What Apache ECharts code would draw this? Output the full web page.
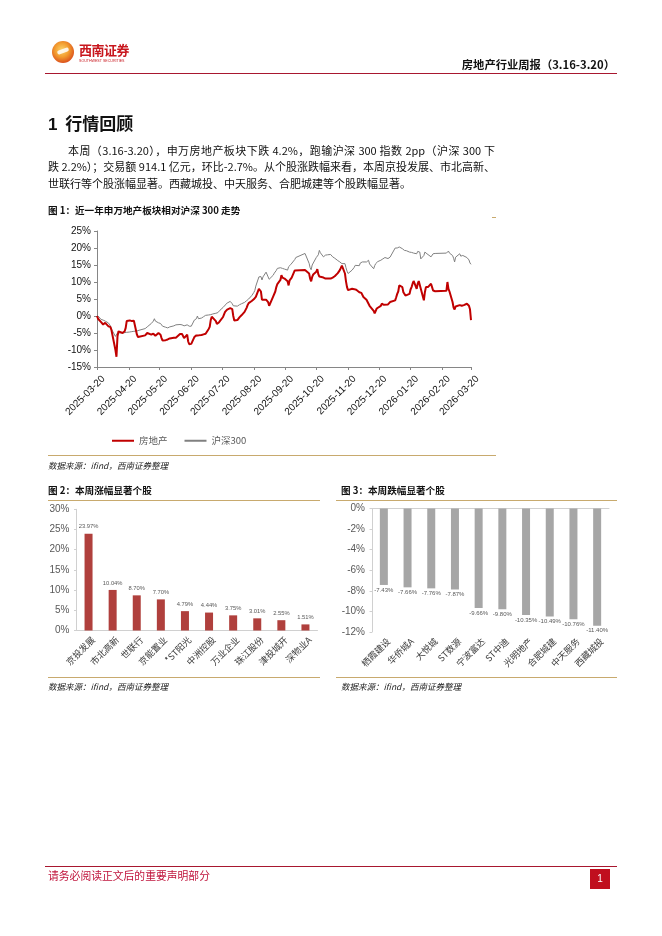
<!DOCTYPE html>
<html><head><meta charset="utf-8">
<script src="https://cdn.jsdelivr.net/npm/echarts@6/dist/echarts.min.js"></script>
<style>
html,body{margin:0;padding:0;background:#fff;}
#page{position:relative;width:662px;height:936px;overflow:hidden;font-family:"Noto Sans CJK SC","Liberation Sans",sans-serif;color:#000;}
#chart{position:absolute;left:0;top:0;width:662px;height:936px;z-index:1;}
.abs{position:absolute;white-space:nowrap;z-index:2;}
.hl{position:absolute;z-index:2;}
.para{position:absolute;font-size:11px;line-height:14px;height:14px;z-index:2;white-space:nowrap;color:#111;}
.just{text-align:justify;text-align-last:justify;white-space:normal;overflow:hidden;}
.ftitle{font-size:9.6px;font-weight:700;line-height:12px;color:#111;}
.src{font-size:8.5px;font-style:italic;line-height:11px;color:#222;}
</style></head>
<body><div id="page">
<div id="chart"></div>

<!-- header -->
<div class="hl" style="left:52px;top:41px;width:22px;height:22px;border-radius:50%;background:radial-gradient(circle at 45% 40%,#fbd36b 0%,#f29b2e 40%,#de5a1e 70%,#c8161d 100%);"></div>
<div class="hl" style="left:57px;top:49px;width:12px;height:4px;border-radius:3px;background:#fff;transform:rotate(-20deg);opacity:0.85;"></div>
<div class="abs" style="left:79px;top:42px;font-size:13px;font-weight:700;color:#c8161d;line-height:15px;letter-spacing:-0.5px;">西南证券</div>
<div class="abs" style="left:79px;top:59px;font-size:3.6px;color:#c8161d;line-height:4px;font-family:'Liberation Sans';">SOUTHWEST SECURITIES</div>
<div class="abs" style="right:47px;top:57px;font-size:11.3px;font-weight:700;line-height:14px;color:#111;">房地产行业周报（3.16-3.20）</div>
<div class="hl" style="left:45px;top:73px;width:572px;height:1.3px;background:#a8172f;"></div>

<!-- section -->
<div class="abs" style="left:48px;top:113px;font-size:17px;font-weight:700;line-height:20px;color:#111;"><span style="font-family:'Liberation Sans';">1</span>&nbsp;&nbsp;行情回顾</div>
<div class="para just" style="left:68px;top:143px;width:427px;">本周（3.16-3.20），申万房地产板块下跌 4.2%，跑输沪深 300 指数 2pp（沪深 300 下</div>
<div class="para just" style="left:48px;top:159px;width:447px;">跌 2.2%）；交易额 914.1 亿元，环比-2.7%。从个股涨跌幅来看，本周京投发展、市北高新、</div>
<div class="para" style="left:48px;top:176px;">世联行等个股涨幅显著。西藏城投、中天服务、合肥城建等个股跌幅显著。</div>

<!-- figure 1 -->
<div class="abs ftitle" style="left:48px;top:204px;">图 1：近一年申万地产板块相对沪深 300 走势</div>
<div class="hl" style="left:492px;top:217px;width:4px;height:1px;background:#c8aa6e;"></div>
<div class="hl" style="left:48px;top:455px;width:448px;height:1px;background:#c8aa6e;"></div>
<div class="abs src" style="left:48px;top:460px;">数据来源：ifind，西南证券整理</div>

<!-- figure 2 -->
<div class="abs ftitle" style="left:48px;top:484px;">图 2：本周涨幅显著个股</div>
<div class="hl" style="left:48px;top:500px;width:272px;height:1px;background:#c8aa6e;"></div>
<div class="hl" style="left:48px;top:677px;width:272px;height:1px;background:#c8aa6e;"></div>
<div class="abs src" style="left:48px;top:681px;">数据来源：ifind，西南证券整理</div>

<!-- figure 3 -->
<div class="abs ftitle" style="left:341px;top:484px;">图 3：本周跌幅显著个股</div>
<div class="hl" style="left:336px;top:500px;width:281px;height:1px;background:#c8aa6e;"></div>
<div class="hl" style="left:336px;top:677px;width:281px;height:1px;background:#c8aa6e;"></div>
<div class="abs src" style="left:341px;top:681px;">数据来源：ifind，西南证券整理</div>

<!-- footer -->
<div class="hl" style="left:45px;top:866px;width:572px;height:1.3px;background:#a8172f;"></div>
<div class="abs" style="left:48px;top:868px;font-size:10.8px;line-height:14px;color:#c0143c;">请务必阅读正文后的重要声明部分</div>
<div class="hl" style="left:590px;top:869px;width:20px;height:20px;background:#c00f1e;color:#fff;font-size:10px;line-height:20px;text-align:center;font-family:'Liberation Sans';">1</div>
</div>

<script>
// ---------- data ----------
const dates = [
'2025-03-20','2025-03-21','2025-03-24','2025-03-25','2025-03-26','2025-03-27','2025-03-28','2025-03-31',
'2025-04-01','2025-04-02','2025-04-03','2025-04-07','2025-04-08','2025-04-09','2025-04-10','2025-04-11',
'2025-04-14','2025-04-15','2025-04-16','2025-04-17','2025-04-18','2025-04-21','2025-04-22','2025-04-23',
'2025-04-24','2025-04-25','2025-04-28','2025-04-29','2025-04-30','2025-05-06','2025-05-07','2025-05-08',
'2025-05-09','2025-05-12','2025-05-13','2025-05-14','2025-05-15','2025-05-16','2025-05-19','2025-05-20',
'2025-05-21','2025-05-22','2025-05-23','2025-05-26','2025-05-27','2025-05-28','2025-05-29','2025-05-30',
'2025-06-03','2025-06-04','2025-06-05','2025-06-06','2025-06-09','2025-06-10','2025-06-11','2025-06-12',
'2025-06-13','2025-06-16','2025-06-17','2025-06-18','2025-06-19','2025-06-20','2025-06-23','2025-06-24',
'2025-06-25','2025-06-26','2025-06-27','2025-06-30','2025-07-01','2025-07-02','2025-07-03','2025-07-04',
'2025-07-07','2025-07-08','2025-07-09','2025-07-10','2025-07-11','2025-07-14','2025-07-15','2025-07-16',
'2025-07-17','2025-07-18','2025-07-21','2025-07-22','2025-07-23','2025-07-24','2025-07-25','2025-07-28',
'2025-07-29','2025-07-30','2025-07-31','2025-08-01','2025-08-04','2025-08-05','2025-08-06','2025-08-07',
'2025-08-08','2025-08-11','2025-08-12','2025-08-13','2025-08-14','2025-08-15','2025-08-18','2025-08-19',
'2025-08-20','2025-08-21','2025-08-22','2025-08-25','2025-08-26','2025-08-27','2025-08-28','2025-08-29',
'2025-09-01','2025-09-02','2025-09-03','2025-09-04','2025-09-05','2025-09-08','2025-09-09','2025-09-10',
'2025-09-11','2025-09-12','2025-09-15','2025-09-16','2025-09-17','2025-09-18','2025-09-19','2025-09-22',
'2025-09-23','2025-09-24','2025-09-25','2025-09-26','2025-09-29','2025-09-30','2025-10-09','2025-10-10',
'2025-10-13','2025-10-14','2025-10-15','2025-10-16','2025-10-17','2025-10-20','2025-10-21','2025-10-22',
'2025-10-23','2025-10-24','2025-10-27','2025-10-28','2025-10-29','2025-10-30','2025-10-31','2025-11-03',
'2025-11-04','2025-11-05','2025-11-06','2025-11-07','2025-11-10','2025-11-11','2025-11-12','2025-11-13',
'2025-11-14','2025-11-17','2025-11-18','2025-11-19','2025-11-20','2025-11-21','2025-11-24','2025-11-25',
'2025-11-26','2025-11-27','2025-11-28','2025-12-01','2025-12-02','2025-12-03','2025-12-04','2025-12-05',
'2025-12-08','2025-12-09','2025-12-10','2025-12-11','2025-12-12','2025-12-15','2025-12-16','2025-12-17',
'2025-12-18','2025-12-19','2025-12-22','2025-12-23','2025-12-24','2025-12-25','2025-12-26','2025-12-29',
'2025-12-30','2025-12-31','2026-01-05','2026-01-06','2026-01-07','2026-01-08','2026-01-09','2026-01-12',
'2026-01-13','2026-01-14','2026-01-15','2026-01-16','2026-01-19','2026-01-20','2026-01-21','2026-01-22',
'2026-01-23','2026-01-26','2026-01-27','2026-01-28','2026-01-29','2026-01-30','2026-02-02','2026-02-03',
'2026-02-04','2026-02-05','2026-02-06','2026-02-09','2026-02-10','2026-02-11','2026-02-12','2026-02-13',
'2026-02-24','2026-02-25','2026-02-26','2026-02-27','2026-03-02','2026-03-03','2026-03-04','2026-03-05',
'2026-03-06','2026-03-09','2026-03-10','2026-03-11','2026-03-12','2026-03-13','2026-03-16','2026-03-17',
'2026-03-18','2026-03-19','2026-03-20'
];
const realEstate = [
0.0,-0.8,-1.8,-2.2,-2.5,-2.2,-2.0,-3.0,
-3.0,-3.2,-4.0,-10.0,-12.0,-6.0,-4.5,-4.8,
-5.0,-4.8,-4.5,-3.5,-1.5,-1.3,-1.4,-1.5,
-1.2,-1.4,-5.5,-6.2,-6.0,-5.7,-5.4,-5.0,
-4.5,-5.5,-5.3,-5.2,-5.0,-5.8,-5.0,-4.8,
-5.5,-6.5,-7.2,-7.1,-7.0,-6.9,-6.8,-6.6,
-6.4,-6.5,-6.4,-6.3,-5.3,-5.4,-5.3,-5.6,
-6.5,-5.5,-7.5,-8.3,-8.6,-8.2,-6.2,-5.8,
-5.7,-5.6,-5.7,-5.6,-5.5,-5.4,-5.3,-5.2,
-3.8,-3.2,-1.2,-0.2,0.2,-1.5,-2.3,-2.1,
-1.9,-1.6,-0.3,0.5,1.2,1.7,1.9,2.3,
2.5,2.0,0.0,-1.3,-1.2,-0.8,-0.4,-0.2,
0.2,1.2,1.8,2.4,3.2,3.8,4.4,4.6,
4.9,5.3,5.6,8.0,8.5,7.2,4.8,4.6,
4.8,4.5,4.1,3.0,3.0,5.8,6.3,7.2,
8.5,9.4,10.6,12.0,11.3,10.8,11.0,10.2,
9.0,10.5,11.0,11.3,13.4,13.6,13.5,13.3,
12.5,11.0,10.2,11.5,12.2,13.0,13.8,12.3,
11.6,11.5,11.3,11.2,11.0,11.0,11.0,11.0,
11.1,11.3,11.5,11.7,12.6,13.1,13.5,14.0,
14.8,12.5,10.2,8.5,7.6,7.5,8.0,8.0,
7.9,7.7,7.7,7.0,6.6,6.8,6.5,5.6,
4.8,4.2,3.6,3.0,2.6,1.5,0.8,0.5,
2.2,2.6,3.0,3.6,3.2,3.3,3.8,3.4,
3.8,4.1,4.6,5.5,6.5,7.2,9.0,8.5,
7.0,6.5,6.0,5.6,6.5,7.8,8.5,9.5,
10.3,8.0,9.5,10.3,10.5,8.0,4.6,7.0,
8.5,9.0,8.5,9.5,8.5,7.5,7.3,7.3,
7.4,10.0,8.0,7.2,4.1,2.5,1.9,2.8,
2.4,3.2,2.7,3.0,3.4,3.2,3.6,4.1,
3.0,2.0,-1.2
];
const hs300 = [
0.3,0.0,-1.0,-1.0,-1.2,-1.3,-1.5,-2.0,
-2.3,-2.8,-3.8,-6.0,-5.5,-5.0,-5.0,-5.0,
-4.9,-4.9,-4.9,-4.8,-4.8,-4.7,-4.7,-4.6,
-4.6,-4.5,-4.4,-4.3,-4.2,-3.7,-3.5,-3.2,
-3.0,-2.2,-1.8,-1.5,-0.8,-1.5,-2.0,-1.5,
-2.2,-2.6,-3.0,-3.3,-3.5,-3.5,-3.4,-3.2,
-2.9,-2.8,-2.6,-2.7,-2.5,-2.5,-2.6,-2.7,
-2.9,-2.6,-2.8,-3.0,-3.4,-3.0,-1.2,-1.5,
-0.8,0.0,-0.8,-0.6,-0.3,-0.2,0.0,0.2,
0.3,0.3,0.4,0.5,0.6,0.8,0.9,1.0,
1.4,1.7,2.5,2.9,3.2,3.5,3.8,4.3,
4.2,3.6,3.0,3.5,2.9,3.1,3.3,3.5,
3.6,4.0,4.1,4.5,4.9,5.0,6.0,6.4,
6.9,7.5,8.8,11.5,12.0,11.6,10.6,11.5,
12.9,12.5,11.5,10.8,10.7,12.0,12.6,13.0,
13.4,14.0,14.2,13.9,14.0,13.9,13.8,13.5,
14.5,14.9,15.1,15.4,16.6,17.2,18.4,18.0,
15.5,14.2,13.6,15.0,15.5,17.2,17.6,18.0,
19.3,18.6,17.4,17.8,17.9,17.8,18.0,18.1,
17.8,17.4,17.2,17.0,16.3,16.0,15.9,15.6,
15.4,15.4,14.2,13.2,12.5,12.4,13.5,13.9,
14.3,14.9,15.4,14.8,15.6,15.8,15.9,15.7,
15.9,16.2,16.4,15.3,14.9,13.9,14.8,15.4,
15.6,16.0,16.4,16.6,16.8,17.0,17.2,16.9,
17.0,17.3,20.0,20.5,20.0,19.8,20.3,19.8,
19.4,19.3,19.2,19.2,18.8,18.9,18.7,18.6,
18.5,18.3,19.0,19.0,18.8,16.8,17.8,18.8,
18.5,18.3,18.8,17.4,17.6,18.3,18.4,18.4,
18.5,18.9,19.1,18.5,17.8,17.0,15.9,17.3,
17.8,18.3,17.6,17.3,17.8,17.5,17.2,17.4,
16.5,15.6,15.2
];
const xTickDates = ['2025-03-20','2025-04-20','2025-05-20','2025-06-20','2025-07-20','2025-08-20','2025-09-20',
  '2025-10-20','2025-11-20','2025-12-20','2026-01-20','2026-02-20','2026-03-20'];
const gainNames = ['京投发展','市北高新','世联行','京能置业','*ST阳光','中洲控股','万业企业','珠江股份','津投城开','深物业A'];
const gainValues = [23.97,10.04,8.70,7.70,4.79,4.44,3.75,3.01,2.55,1.51];
const lossNames = ['栖霞建设','华侨城A','大悦城','ST数源','宁波富达','ST中迪','光明地产','合肥城建','中天服务','西藏城投'];
const lossValues = [-7.43,-7.66,-7.76,-7.87,-9.66,-9.80,-10.35,-10.49,-10.76,-11.40];

// ---------- build ----------
function toTs(s){const p=s.split('-');return new Date(+p[0],+p[1]-1,+p[2]).getTime();}
function fmtDate(v){const d=new Date(v);const m=d.getMonth()+1,dd=d.getDate();
  return d.getFullYear()+'-'+(m<10?'0':'')+m+'-'+(dd<10?'0':'')+dd;}
const tickTs = xTickDates.map(toTs);
const reData = dates.map((d,i)=>[toTs(d),realEstate[i]]);
const hsData = dates.map((d,i)=>[toTs(d),hs300[i]]);
const pctFmt = v => v.toFixed(2)+'%';

const axisGray = '#868686';
const lightGray = '#d0d0d0';
const catLabel = {rotate:45,interval:0,fontSize:9,color:'#3a3a3a',fontFamily:'Noto Sans CJK SC',
  verticalAlign:'top',margin:3,padding:[2,0,0,0]};

const chart = echarts.init(document.getElementById('chart'),null,{renderer:'canvas'});
chart.setOption({
  animation:false,
  grid:[
    {left:97,top:231,width:374,height:136},
    {left:76.5,top:509.3,width:241,height:121.2},
    {left:372,top:508.5,width:237,height:123.5}
  ],
  legend:{
    data:['房地产','沪深300'],left:107,top:431,icon:'rect',itemWidth:22,itemHeight:2,itemGap:17,
    textStyle:{fontSize:9.5,color:'#595959',fontFamily:'Noto Sans CJK SC'}
  },
  xAxis:[
    {gridIndex:0,type:'value',min:toTs('2025-03-20'),max:toTs('2026-03-20'),scale:true,
     axisLine:{onZero:false,lineStyle:{color:axisGray,width:1}},
     axisTick:{show:true,customValues:tickTs,length:3,lineStyle:{color:axisGray}},
     axisLabel:{customValues:tickTs,formatter:fmtDate,rotate:45,fontSize:10,color:'#111',
       fontFamily:'Liberation Sans',verticalAlign:'top',margin:4,padding:[4,0,0,0],hideOverlap:false,
       showMinLabel:true,showMaxLabel:true},
     splitLine:{show:false}},
    {gridIndex:1,type:'category',data:gainNames,
     axisLine:{lineStyle:{color:lightGray}},axisTick:{show:false},axisLabel:catLabel},
    {gridIndex:2,type:'category',data:lossNames,position:'bottom',
     axisLine:{show:false,onZero:false},axisTick:{show:false},axisLabel:catLabel},
    {gridIndex:2,type:'category',data:lossNames,position:'top',
     axisLine:{show:true,onZero:false,lineStyle:{color:lightGray}},axisTick:{show:false},axisLabel:{show:false}}
  ],
  yAxis:[
    {gridIndex:0,type:'value',min:-15,max:25,interval:5,
     axisLine:{show:true,onZero:false,lineStyle:{color:axisGray}},axisTick:{show:true,length:3,lineStyle:{color:axisGray}},
     splitLine:{show:false},
     axisLabel:{formatter:'{value}%',fontSize:10,color:'#111',fontFamily:'Liberation Sans',margin:6}},
    {gridIndex:1,type:'value',min:0,max:30,interval:5,
     axisLine:{show:true,lineStyle:{color:lightGray}},axisTick:{show:true,length:2.5,lineStyle:{color:lightGray}},
     splitLine:{show:false},
     axisLabel:{formatter:'{value}%',fontSize:10,color:'#595959',fontFamily:'Liberation Sans',margin:7}},
    {gridIndex:2,type:'value',min:-12,max:0,interval:2,
     axisLine:{show:true,lineStyle:{color:lightGray}},axisTick:{show:true,length:2.5,lineStyle:{color:lightGray}},
     splitLine:{show:false},
     axisLabel:{formatter:'{value}%',fontSize:10,color:'#595959',fontFamily:'Liberation Sans',margin:7}}
  ],
  series:[
    {name:'沪深300',type:'line',xAxisIndex:0,yAxisIndex:0,data:hsData,showSymbol:false,
     lineStyle:{color:'#808080',width:1},itemStyle:{color:'#808080'}},
    {name:'房地产',type:'line',xAxisIndex:0,yAxisIndex:0,data:reData,showSymbol:false,
     lineStyle:{color:'#c00000',width:2},itemStyle:{color:'#c00000'}},
    {name:'涨幅',type:'bar',xAxisIndex:1,yAxisIndex:1,data:gainValues,barWidth:8,
     itemStyle:{color:'#b0403d'},
     label:{show:true,position:'top',distance:4,formatter:p=>pctFmt(p.value),fontSize:5.8,color:'#595959',fontFamily:'Liberation Sans'}},
    {name:'跌幅',type:'bar',xAxisIndex:2,yAxisIndex:2,data:lossValues,barWidth:8,
     itemStyle:{color:'#a6a6a6'},
     label:{show:true,position:'bottom',distance:2,formatter:p=>pctFmt(p.value),fontSize:6,color:'#595959',fontFamily:'Liberation Sans'}}
  ]
});
</script>
</body></html>
